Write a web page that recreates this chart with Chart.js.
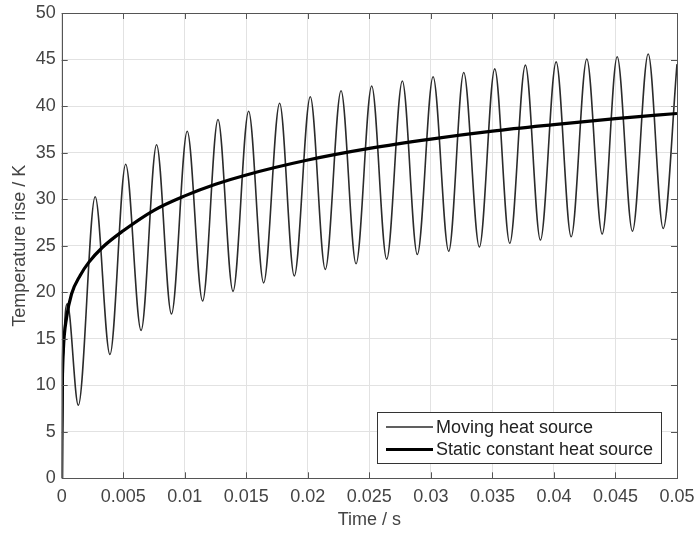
<!DOCTYPE html>
<html>
<head>
<meta charset="utf-8">
<script src="https://cdn.jsdelivr.net/npm/chart.js@4.4.0/dist/chart.umd.min.js"></script>
<style>
  html, body { margin: 0; padding: 0; background: #fff; }
  #wrap { width: 694px; height: 534px; }
</style>
</head>
<body>
<div id="wrap"><canvas id="chart" width="694" height="534"></canvas></div>
<script>
// moving heat source: start, then alternating peaks / troughs
const movingTime = [0, 0.00015, 0.00046, 0.00135, 0.00272, 0.00392, 0.0052, 0.00645,
  0.00771, 0.00892, 0.0102, 0.01145, 0.0127, 0.01392, 0.01519, 0.01641,
  0.01771, 0.0189, 0.0202, 0.02142, 0.0227, 0.02392, 0.02519, 0.02641,
  0.02768, 0.0289, 0.03018, 0.03145, 0.03267, 0.03394, 0.03519, 0.03641,
  0.03768, 0.0389, 0.04018, 0.0414, 0.04267, 0.04392, 0.04514, 0.04638,
  0.04766, 0.04888, 0.05];
const movingTemp = [0, 13, 18.75, 7.85, 30.25, 13.3, 33.75, 15.9,
  35.85, 17.65, 37.3, 19.05, 38.55, 20.1, 39.45, 21.0,
  40.3, 21.75, 41.0, 22.45, 41.65, 23.05, 42.15, 23.55,
  42.7, 24.05, 43.15, 24.4, 43.6, 24.85, 44.0, 25.25,
  44.4, 25.6, 44.75, 25.95, 45.05, 26.25, 45.3, 26.55,
  45.6, 26.85, 44.5];

// static constant heat source
const staticTime = [0, 0.00005, 0.00013, 0.0004, 0.0008, 0.0015, 0.0022, 0.0033,
  0.005, 0.0075, 0.01, 0.0125, 0.015, 0.02, 0.025, 0.03, 0.035, 0.04, 0.045, 0.05];
const staticTemp = [0, 10.2, 13.7, 17.3, 19.8, 21.8, 23.2, 24.8,
  26.6, 28.8, 30.35, 31.6, 32.6, 34.2, 35.45, 36.45, 37.3, 38.0, 38.65, 39.2];

const xTicks = [0, 0.005, 0.01, 0.015, 0.02, 0.025, 0.03, 0.035, 0.04, 0.045, 0.05];
const yTicks = [0, 5, 10, 15, 20, 25, 30, 35, 40, 45, 50];

const labelFont = { family: "'Liberation Sans', Arial, sans-serif", size: 18 };
const axisColor = "#555";
const textColor = "#444";

function toPoints(xs, ys) {
    return xs.map((x, i) => ({ x: x, y: ys[i] }));
}

/* box + inward ticks on all four sides, like matlab */
const boxPlugin = {
    id: "box",
    afterDatasetsDraw(chart) {
        const ctx = chart.ctx;
        const a = chart.chartArea;
        const xs = chart.scales.x, ys = chart.scales.y;
        const tl = 6;
        ctx.save();
        ctx.strokeStyle = axisColor;
        ctx.lineWidth = 1;
        ctx.beginPath();
        xTicks.forEach(v => {
            const px = Math.round(xs.getPixelForValue(v)) + 0.5;
            ctx.moveTo(px, a.bottom); ctx.lineTo(px, a.bottom - tl);
            ctx.moveTo(px, a.top); ctx.lineTo(px, a.top + tl);
        });
        yTicks.forEach(v => {
            const py = Math.round(ys.getPixelForValue(v)) + 0.5;
            ctx.moveTo(a.left, py); ctx.lineTo(a.left + tl, py);
            ctx.moveTo(a.right, py); ctx.lineTo(a.right - tl, py);
        });
        ctx.stroke();
        ctx.strokeRect(Math.round(a.left) + 0.5, Math.round(a.top) + 0.5,
            Math.round(a.right - a.left), Math.round(a.bottom - a.top));
        ctx.restore();
    }
};

/* legend box inside the plot, lower right */
const legendPlugin = {
    id: "boxLegend",
    afterDraw(chart) {
        const ctx = chart.ctx;
        const x0 = 377.5, y0 = 412.5, w = 284, h = 51;
        ctx.save();
        ctx.fillStyle = "#fff";
        ctx.fillRect(x0, y0, w, h);
        ctx.strokeStyle = "#333";
        ctx.lineWidth = 1;
        ctx.strokeRect(x0, y0, w, h);
        ctx.font = "18px " + labelFont.family;
        ctx.textBaseline = "middle";
        ctx.fillStyle = "#222";
        chart.data.datasets.forEach((ds, i) => {
            const y = 427 + i * 22.5;
            ctx.strokeStyle = ds.borderColor;
            ctx.lineWidth = ds.borderWidth;
            ctx.beginPath();
            ctx.moveTo(386, y);
            ctx.lineTo(433, y);
            ctx.stroke();
            ctx.fillText(ds.label, 436, y + 1);
        });
        ctx.restore();
    }
};

new Chart(document.getElementById("chart"), {
    type: "line",
    data: {
        datasets: [
            {
                label: "Moving heat source",
                data: toPoints(movingTime, movingTemp),
                borderColor: "#2b2b2b",
                borderWidth: 1.6,
                pointRadius: 0,
                cubicInterpolationMode: "monotone",
                order: 1
            },
            {
                label: "Static constant heat source",
                data: toPoints(staticTime, staticTemp),
                borderColor: "#000",
                borderWidth: 3.2,
                pointRadius: 0,
                cubicInterpolationMode: "monotone",
                order: 0
            }
        ]
    },
    options: {
        responsive: false,
        animation: false,
        events: [],
        layout: { padding: { top: 13, right: 17, left: 0, bottom: 0 } },
        plugins: { legend: { display: false }, tooltip: { enabled: false } },
        scales: {
            x: {
                type: "linear",
                min: 0, max: 0.05,
                afterFit: s => { s.height = 55.7; s.paddingLeft = 0; s.paddingRight = 0; },
                afterBuildTicks: s => { s.ticks = xTicks.map(v => ({ value: v })); },
                grid: { color: "#e2e2e2", drawTicks: false },
                border: { display: false },
                ticks: {
                    padding: 8, maxRotation: 0, autoSkip: false,
                    color: textColor, font: labelFont,
                    callback: v => String(+v.toFixed(3))
                },
                title: {
                    display: true, text: "Time / s",
                    color: textColor, font: labelFont,
                    padding: { top: 0, bottom: 3 }
                }
            },
            y: {
                type: "linear",
                min: 0, max: 50,
                afterFit: s => { s.width = 61.7; s.paddingTop = 0; s.paddingBottom = 0; },
                afterBuildTicks: s => { s.ticks = yTicks.map(v => ({ value: v })); },
                grid: { color: "#e2e2e2", drawTicks: false },
                border: { display: false },
                ticks: {
                    padding: 6, autoSkip: false,
                    color: textColor, font: labelFont
                },
                title: {
                    display: true, text: "Temperature rise / K",
                    color: textColor, font: labelFont,
                    padding: { top: 9, bottom: 0 }
                }
            }
        }
    },
    plugins: [boxPlugin, legendPlugin]
});
</script>
</body>
</html>
